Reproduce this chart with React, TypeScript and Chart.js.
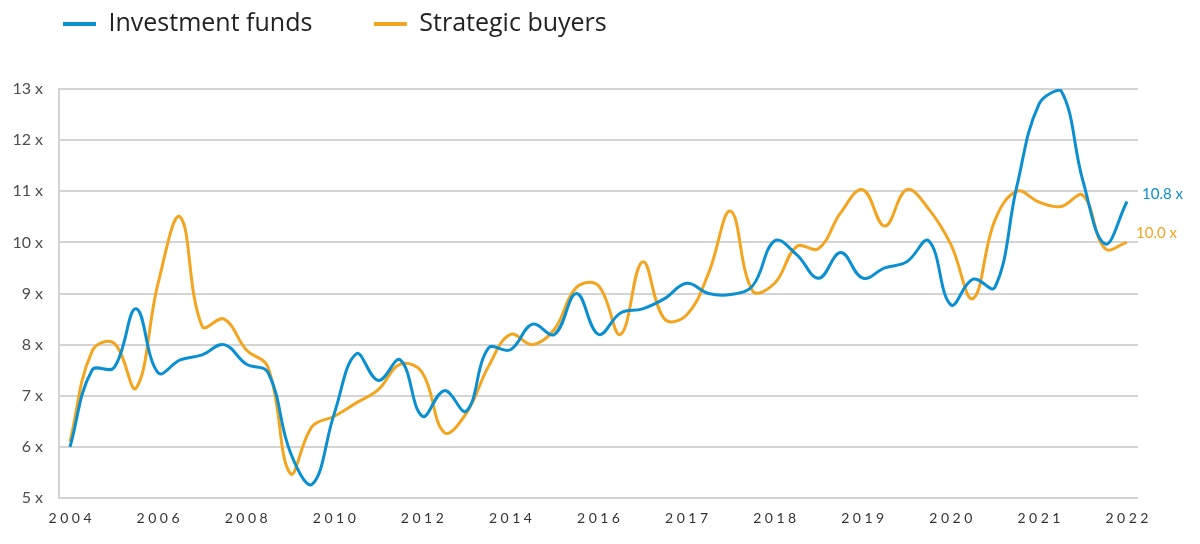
import React, { useEffect, useRef } from 'react';
import { Chart, registerables } from 'chart.js';

Chart.register(...registerables);

// ---- Data ----
const tickLabels = ['2004', '2006', '2008', '2010', '2012', '2014', '2016', '2017', '2018', '2019', '2020', '2021', '2022'];
const pointsPerTick = 4;
const seriesNames = ['Investment funds', 'Strategic buyers'];

const investmentFunds = [
  6.0, 7.5, 7.55, 8.7, 7.45, 7.7, 7.8, 8.0, 7.62, 7.45,
  5.9, 5.27, 6.65, 7.82, 7.3, 7.7, 6.6, 7.1, 6.7, 7.93,
  7.9, 8.4, 8.2, 9.0, 8.2, 8.62, 8.7, 8.9, 9.2, 9.0,
  8.98, 9.15, 10.03, 9.76, 9.3, 9.8, 9.3, 9.5, 9.62, 10.03,
  8.78, 9.28, 9.12, 11.1, 12.7, 12.97, 11.2, 9.97, 10.8,
];

const strategicBuyers = [
  6.1, 7.87, 8.03, 7.15, 9.2, 10.5, 8.36, 8.5, 7.9, 7.55,
  5.48, 6.4, 6.6, 6.86, 7.12, 7.62, 7.45, 6.28, 6.66, 7.57,
  8.2, 8.0, 8.3, 9.12, 9.15, 8.2, 9.62, 8.5, 8.58, 9.4,
  10.61, 9.05, 9.2, 9.92, 9.88, 10.58, 11.03, 10.32, 11.03, 10.65,
  9.96, 8.9, 10.43, 11.0, 10.79, 10.7, 10.92, 9.88, 10.0,
];

const yMin = 5;
const yMax = 13;

const categories = investmentFunds.map((_, i) =>
  i % pointsPerTick === 0 ? tickLabels[i / pointsPerTick] : ''
);

const BLUE = '#0a8fd1';
const ORANGE = '#f3a51f';
const GRID = '#d4d4d4';

// ---- Plugins ----
const legendSpacing = {
  id: 'legendSpacing',
  beforeLayout(chart: any) {
    const lg = chart.legend;
    if (lg && !lg.__patched) {
      const orig = lg.fit;
      lg.fit = function () {
        orig.call(this);
        this.height += 42.5;
      };
      lg.__patched = true;
    }
  },
};

const xLetterSpacing = {
  id: 'xLetterSpacing',
  beforeDraw(chart: any) {
    const sc = chart.scales.x;
    if (sc && !sc.__ls) {
      const orig = sc.drawLabels;
      sc.drawLabels = function (area: any) {
        const c = this.ctx;
        c.save();
        (c as any).letterSpacing = '3.5px';
        c.translate(1.75, 0);
        orig.call(this, area);
        c.restore();
      };
      sc.__ls = true;
    }
  },
};

const endLabels = {
  id: 'endLabels',
  afterDatasetsDraw(chart: any) {
    const offsets = [
      { dx: 15, dy: -7 },
      { dx: 9, dy: -9 },
    ];
    const ctx = chart.ctx;
    chart.data.datasets.forEach((ds: any, i: number) => {
      const meta = chart.getDatasetMeta(i);
      const pt = meta.data[meta.data.length - 1];
      const v = ds.data[ds.data.length - 1];
      ctx.save();
      ctx.font = '15px Lato';
      ctx.fillStyle = ds.borderColor;
      ctx.textAlign = 'left';
      ctx.textBaseline = 'middle';
      ctx.fillText(`${v.toFixed(1)} x`, pt.x + offsets[i].dx, pt.y + offsets[i].dy);
      ctx.restore();
    });
  },
};

export default function App() {
  const ref = useRef<HTMLCanvasElement | null>(null);

  useEffect(() => {
    if (!ref.current) return;
    Chart.defaults.font.family = 'Lato';
    const chart = new Chart(ref.current, {
      type: 'line',
      data: {
        labels: categories,
        datasets: [
          {
            label: seriesNames[0],
            data: investmentFunds,
            borderColor: BLUE,
            backgroundColor: BLUE,
            borderWidth: 3,
            pointRadius: 0,
            tension: 0.4,
            fill: false,
          },
          {
            label: seriesNames[1],
            data: strategicBuyers,
            borderColor: ORANGE,
            backgroundColor: ORANGE,
            borderWidth: 3,
            pointRadius: 0,
            tension: 0.4,
            fill: false,
          },
        ],
      },
      options: {
        animation: false,
        responsive: false,
        maintainAspectRatio: false,
        layout: { padding: { top: -58, left: -6.5, right: 54, bottom: 8 } },
        plugins: {
          legend: {
            position: 'top',
            align: 'start',
            labels: {
              boxWidth: 33,
              boxHeight: 4,
              padding: 61.5,
              color: '#222222',
              font: { size: 25, family: 'Open Sans' },
              generateLabels: (c: any) =>
                (Chart.defaults.plugins.legend.labels as any)
                  .generateLabels(c)
                  .map((l: any) => ({ ...l, lineWidth: 0 })),
            },
          },
          tooltip: { enabled: false },
        },
        scales: {
          x: {
            type: 'category',
            offset: true,
            grid: { display: false, drawTicks: false },
            border: { display: false },
            ticks: {
              autoSkip: false,
              maxRotation: 0,
              minRotation: 0,
              padding: 12,
              color: '#333333',
              font: { size: 14 },
            },
            afterFit: (s: any) => {
              s.height = 30;
            },
          },
          y: {
            min: yMin,
            max: yMax,
            ticks: {
              stepSize: 1,
              padding: 16,
              color: '#4d4d4d',
              font: { size: 16 },
              callback: (v: any) => `${v} x`,
            },
            grid: { color: GRID, lineWidth: 2, drawTicks: false },
            border: { display: true, color: GRID, width: 2 },
            afterFit: (s: any) => {
              s.width = 57.5;
            },
          },
        },
      },
      plugins: [legendSpacing, xLetterSpacing, endLabels],
    } as any);
    return () => chart.destroy();
  }, []);

  return (
    <div style={{ width: 1184, height: 528 }}>
      <canvas ref={ref} width={1184} height={528} style={{ display: 'block' }} />
    </div>
  );
}
